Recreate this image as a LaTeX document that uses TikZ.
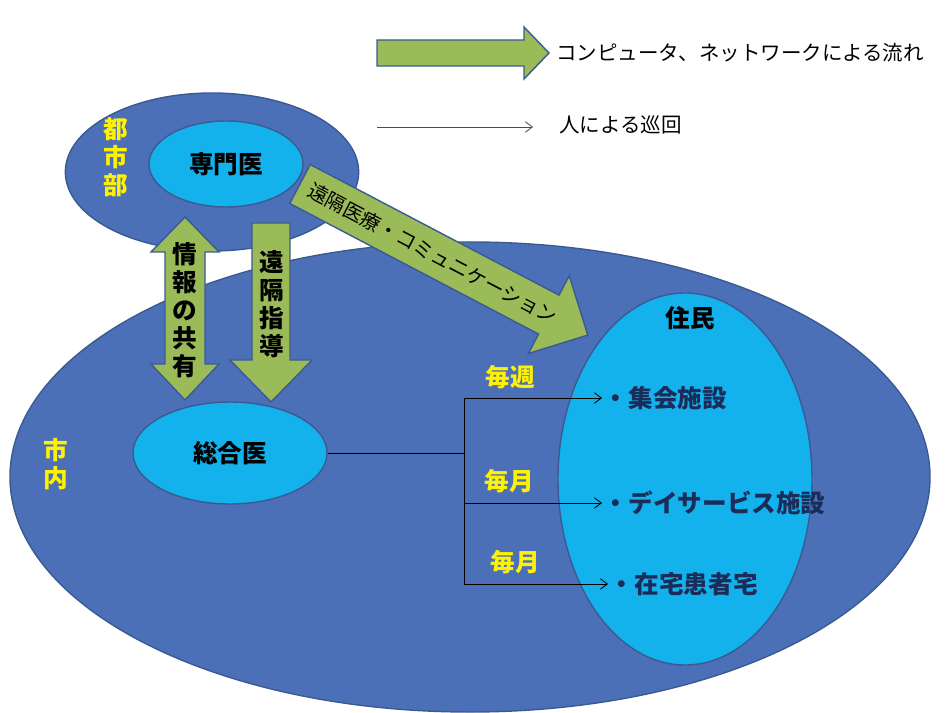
\documentclass[tikz,border=0pt]{standalone}
\usepackage{fontspec}
\setmainfont{Noto Sans CJK JP}
\usetikzlibrary{shapes.geometric,arrows.meta}

\definecolor{cityblue}{HTML}{4B70B8}
\definecolor{rimblue}{HTML}{3B5A92}
\definecolor{skyblue}{HTML}{14B2EC}
\definecolor{leafgreen}{HTML}{9BBB59}
\definecolor{navytext}{HTML}{1B2C58}

\begin{document}
\begin{tikzpicture}[x=0.03cm,y=-0.03cm]

\tikzset{cityarea/.style={draw=rimblue,line width=1.2pt,fill=cityblue,ellipse,inner sep=0pt},
  docarea/.style={draw=rimblue,line width=1.2pt,fill=skyblue,ellipse,inner sep=0pt,font=\fontsize{21}{24}\selectfont\bfseries},
  bigarrow/.style={draw=rimblue,line width=1.2pt,fill=leafgreen,line join=miter},
  yellowtext/.style={text=yellow,font=\fontsize{21}{24}\selectfont\bfseries,align=center},
  tatetext/.style={font=\fontsize{21}{24}\selectfont\bfseries,align=center},
  itemtext/.style={anchor=west,inner sep=1.5pt,text=navytext,font=\fontsize{21}{24}\selectfont\bfseries},
  legendtext/.style={anchor=west,font=\fontsize{17.5}{20}\selectfont},
  rounds/.style={-{Straight Barb[length=6pt,width=9pt]},line width=0.7pt}}

  \useasboundingbox (0,0) rectangle (950,713);

  % areas
  \node[cityarea,minimum width=27.6cm,minimum height=14.1cm] (city) at (470,477) {};
  \node[cityarea,minimum width=8.8cm,minimum height=4.74cm] (urban) at (212,172) {};
  \node[docarea,minimum width=4.62cm,minimum height=2.58cm] (senmon) at (226,164) {専門医};
  \node[docarea,minimum width=5.82cm,minimum height=3.06cm] (sogo) at (230,453) {総合医};
  \node[docarea,minimum width=7.62cm,minimum height=11.16cm] (jumin) at (685,479) {};

  \node[yellowtext] (urbanlabel) at (116,157) {都\\市\\部};
  \node[yellowtext] (citylabel) at (56,464) {市\\内};
  \node[tatetext] (juminlabel) at (690,318) {住民};

  % fat arrows
  \draw[bigarrow] (185,217) -- (219,252) -- (205,252) -- (205,364) -- (219,364) -- (185,400)
    -- (151,364) -- (165,364) -- (165,252) -- (151,252) -- cycle;
  \node[tatetext] (share) at (185,310) {情\\報\\の\\共\\有};

  \draw[bigarrow] (252,223) -- (290,223) -- (290,360) -- (312,360) -- (271,402) -- (230,360)
    -- (252,360) -- cycle;
  \node[tatetext] (guide) at (272,304) {遠\\隔\\指\\導};

  \begin{scope}[shift={(300,184)},rotate=-27.7]
    \draw[bigarrow] (0,-22) -- (281,-22) -- (281,-44) -- (325,0) -- (281,44) -- (281,22)
      -- (0,22) -- cycle;
    \node[rotate=-27.7,font=\fontsize{17}{20}\selectfont] (remote) at (150,0) {遠隔医療・コミュニケーション};
  \end{scope}

  % rounds
  \node[itemtext] (item1) at (602,398) {・集会施設};
  \node[itemtext] (item2) at (602,503) {・デイサービス施設};
  \node[itemtext] (item3) at (608,584) {・在宅患者宅};

  \coordinate (hub) at (464,453);
  \draw[line width=0.7pt] (sogo.east) -- (hub);
  \draw[rounds] (hub) |- (item1.west);
  \draw[rounds] (hub) |- (item2.west);
  \draw[rounds] (hub) |- (item3.west);

  \node[yellowtext] (weekly) at (510,377) {毎週};
  \node[yellowtext] (monthly1) at (509,481) {毎月};
  \node[yellowtext] (monthly2) at (515,562) {毎月};

  % legend
  \draw[bigarrow] (377,40) -- (524,40) -- (524,27) -- (549,53) -- (524,79) -- (524,66)
    -- (377,66) -- cycle;
  \node[legendtext] (lgnet) at (552,53) {コンピュータ、ネットワークによる流れ};
  \coordinate (lgstart) at (377,127);
  \coordinate (lgend) at (533,127);
  \draw[rounds,draw=black!70] (lgstart) -- (lgend);
  \node[legendtext] (lgwalk) at (555,125) {人による巡回};

\end{tikzpicture}
\end{document}
